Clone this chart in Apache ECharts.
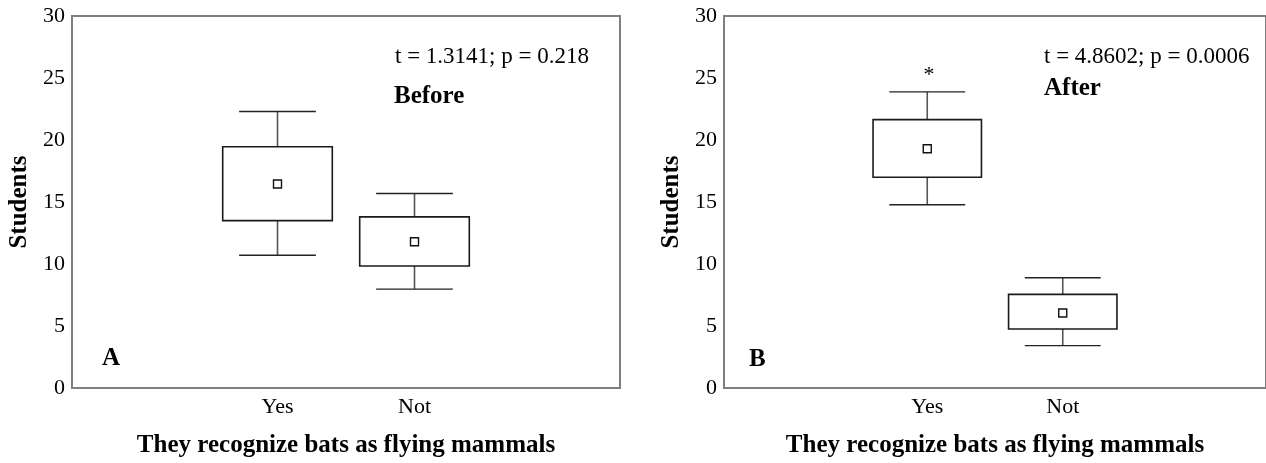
<!DOCTYPE html>
<html><head><meta charset="utf-8">
<script src="https://cdn.jsdelivr.net/npm/echarts@6/dist/echarts.min.js"></script>
<style>html,body{margin:0;padding:0;background:#fff}#c{width:1266px;height:463px}</style>
</head><body><div id="c"></div>
<script>
const categories = ['', 'Yes', 'Not', ''];
const yTicks = [0, 5, 10, 15, 20, 25, 30];
// [category index, lower whisker, box bottom, mean, box top, upper whisker]
const beforeStats = [
  [1, 10.7, 13.5, 16.45, 19.45, 22.3],
  [2, 7.97, 9.84, 11.8, 13.8, 15.68]
];
const afterStats = [
  [1, 14.78, 17.0, 19.3, 21.64, 23.88],
  [2, 3.42, 4.76, 6.05, 7.55, 8.89]
];
const xTitle = 'They recognize bats as flying mammals';
const yTitle = 'Students';

const FONT = '"Liberation Serif", "Times New Roman", serif';
const FRAME = '#7f7f7f';

function renderBox(params, api) {
  const c = api.value(0);
  const band = api.size([1, 0])[0];
  const lo = api.coord([c, api.value(1)]);
  const q1 = api.coord([c, api.value(2)]);
  const m = api.coord([c, api.value(3)]);
  const q3 = api.coord([c, api.value(4)]);
  const hi = api.coord([c, api.value(5)]);
  const x = lo[0];
  const bw = band * 0.8, cw = band * 0.56, s = 8;
  const wStyle = {stroke: '#555', lineWidth: 1.6};
  return {type: 'group', children: [
    {type: 'line', shape: {x1: x, y1: hi[1], x2: x, y2: q3[1]}, style: wStyle},
    {type: 'line', shape: {x1: x, y1: q1[1], x2: x, y2: lo[1]}, style: wStyle},
    {type: 'line', shape: {x1: x - cw / 2, y1: hi[1], x2: x + cw / 2, y2: hi[1]}, style: {stroke: '#222', lineWidth: 1.4}},
    {type: 'line', shape: {x1: x - cw / 2, y1: lo[1], x2: x + cw / 2, y2: lo[1]}, style: {stroke: '#222', lineWidth: 1.4}},
    {type: 'rect', shape: {x: x - bw / 2, y: q3[1], width: bw, height: q1[1] - q3[1]}, style: {fill: '#fff', stroke: '#1a1a1a', lineWidth: 1.6}},
    {type: 'rect', shape: {x: m[0] - s / 2, y: m[1] - s / 2, width: s, height: s}, style: {fill: '#fff', stroke: '#111', lineWidth: 1.4}}
  ]};
}

function xAxisCfg(gi) {
  return {
    gridIndex: gi, type: 'category', data: categories, boundaryGap: true,
    axisLine: {lineStyle: {color: FRAME, width: 2}},
    axisTick: {show: false},
    axisLabel: {color: '#000', fontFamily: FONT, fontSize: 22, margin: 8, interval: 0},
    name: xTitle, nameLocation: 'middle', nameGap: 45,
    nameTextStyle: {color: '#000', fontFamily: FONT, fontSize: 25, fontWeight: 'bold'},
    splitLine: {show: false}
  };
}
function yAxisCfg(gi) {
  return {
    gridIndex: gi, type: 'value', min: yTicks[0], max: yTicks[yTicks.length - 1], interval: 5,
    axisLine: {show: true, lineStyle: {color: FRAME, width: 2}},
    axisTick: {show: false},
    axisLabel: {color: '#000', fontFamily: FONT, fontSize: 22, margin: 7},
    splitLine: {show: false},
    name: yTitle, nameLocation: 'middle', nameGap: 40, nameRotate: 90,
    nameTextStyle: {color: '#000', fontFamily: FONT, fontSize: 25, fontWeight: 'bold'}
  };
}

function txt(x, y, text, size, bold, align) {
  return {type: 'text', x: x, y: y, silent: true,
    style: {text: text, font: (bold ? 'bold ' : '') + size + 'px ' + FONT, fill: '#000',
      textAlign: align || 'left', textVerticalAlign: 'middle'}};
}

const chart = echarts.init(document.getElementById('c'), null, {renderer: 'canvas'});
chart.setOption({
  animation: false,
  backgroundColor: '#fff',
  grid: [
    {left: 72, top: 16, width: 548, height: 375, show: true, borderColor: FRAME, borderWidth: 2, backgroundColor: 'transparent'},
    {left: 724, top: 16, width: 548, height: 375, show: true, borderColor: FRAME, borderWidth: 2, backgroundColor: 'transparent'}
  ],
  xAxis: [xAxisCfg(0), xAxisCfg(1)],
  yAxis: [yAxisCfg(0), yAxisCfg(1)],
  series: [
    {type: 'custom', xAxisIndex: 0, yAxisIndex: 0, data: beforeStats, renderItem: renderBox, encode: {x: 0, y: [1, 2, 3, 4, 5]}},
    {type: 'custom', xAxisIndex: 1, yAxisIndex: 1, data: afterStats, renderItem: renderBox, encode: {x: 0, y: [1, 2, 3, 4, 5]}}
  ],
  graphic: [
    txt(395, 57, 't = 1.3141; p = 0.218', 23, false),
    txt(394, 97, 'Before', 25, true),
    txt(102, 359, 'A', 25, true),
    txt(1044, 57, 't = 4.8602; p = 0.0006', 23, false),
    txt(1044, 89, 'After', 25, true),
    txt(929, 75, '*', 22, false, 'center'),
    txt(749, 360, 'B', 25, true)
  ]
});
</script>
</body></html>
